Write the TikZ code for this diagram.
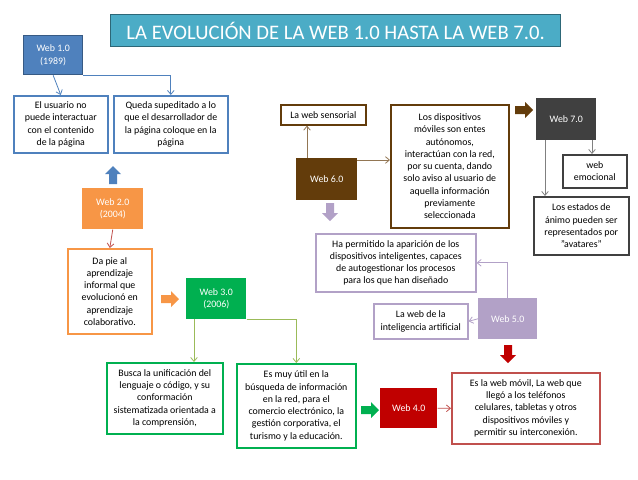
\documentclass[tikz,border=0pt]{standalone}
\usepackage{fontspec}
\setmainfont{Carlito}
\usetikzlibrary{arrows.meta}
\definecolor{tealc}{HTML}{4BACC6}
\definecolor{bluec}{HTML}{4F81BD}
\definecolor{orangec}{HTML}{F79646}
\definecolor{greenc}{HTML}{00B050}
\definecolor{greenl}{HTML}{9BBB59}
\definecolor{redc}{HTML}{C00000}
\definecolor{redl}{HTML}{C0504D}
\definecolor{purplec}{HTML}{B2A1C7}
\definecolor{brownc}{HTML}{633C0B}
\definecolor{grayc}{HTML}{404040}
\tikzset{
 x=0.75pt,y=-0.75pt,
 box/.style={draw=#1,line width=1.2pt,fill=white,align=center,font=\fontsize{7.4}{9.2}\selectfont,inner sep=1pt},
 web/.style={fill=#1,text=white,align=center,font=\fontsize{7.4}{9.2}\selectfont,inner sep=0pt},
 con/.style={draw=#1,line width=0.6pt,-{Straight Barb[length=3pt,width=5pt]}},
}
\newcommand{\bx}[6]{\pgfmathsetmacro\bxw{(#4-#2)*0.75}\pgfmathsetmacro\bxh{(#5-#3)*0.75}%
\node[#1,minimum width=\bxw pt,minimum height=\bxh pt,anchor=north west] (#6) at (#2,#3)}
\newcommand{\blkarrow}[4]{\fill[#4,shift={(#1,#2)},rotate=#3] (-9,-4) -- (1,-4) -- (1,-8) -- (9,0) -- (1,8) -- (1,4) -- (-9,4) -- cycle;}
\begin{document}
\begin{tikzpicture}
\useasboundingbox (0,0) rectangle (638,479);
\node[fill=tealc,draw=tealc!60!black,line width=1pt,text=white,font=\fontsize{15.5}{17}\selectfont,minimum width=337.5pt,minimum height=24pt,anchor=north west] (title) at (110,14) {LA EVOLUCIÓN DE LA WEB 1.0 HASTA LA WEB 7.0.};
\bx{web=bluec,draw=bluec!70!black,line width=1pt}{23}{35}{82}{74}{w1}{Web 1.0\\(1989)};
\bx{box=bluec}{13}{95}{107}{152}{a}{El usuario no\\puede interactuar\\con el contenido\\de la página};
\bx{box=bluec}{113}{95}{227}{152}{b}{Queda supeditado a lo\\que el desarrollador de\\la página coloque en la\\página};
\draw[con=bluec] (w1.south) -- (a.north);
\draw[con=bluec] (w1.south east) -| (b.north);
\blkarrow{113}{175}{90}{bluec}
\bx{web=orangec}{82}{188}{143}{229}{w2}{Web 2.0\\(2004)};
\bx{box=orangec}{67}{248}{151}{333}{c}{Da pie al\\aprendizaje\\informal que\\evolucionó en\\aprendizaje\\colaborativo.};
\draw[con=redl] (w2.south) -- (c.north);
\blkarrow{170}{299}{0}{orangec}
\bx{web=greenc}{186}{278}{246}{319}{w3}{Web 3.0\\(2006)};
\bx{box=greenc}{106}{362}{222}{433}{d}{Busca la unificación del\\lenguaje o código, y su\\conformación\\sistematizada orientada a\\la comprensión,};
\bx{box=greenc}{236}{363}{355}{447}{e}{Es muy útil en la\\búsqueda de información\\en la red, para el\\comercio electrónico, la\\gestión corporativa, el\\turismo y la educación.};
\coordinate (w3s) at (194,319);
\draw[con=greenl] (w3s) -- (194,362);
\draw[con=greenl] (w3.south east) -| (e.north);
\blkarrow{370}{410}{0}{greenc}
\bx{web=redc}{380}{388}{437}{428}{w4}{Web 4.0};
\bx{box=redl}{451}{372}{599}{443}{f}{Es la web móvil, La web que\\llegó a los teléfonos\\celulares, tabletas y otros\\dispositivos móviles y\\permitir su interconexión.};
\draw[con=redl] (w4.east) -- (f.west);
\blkarrow{508}{354}{-90}{redc}
\bx{web=purplec}{478}{298}{537}{339}{w5}{Web 5.0};
\bx{box=purplec}{373}{303}{467}{338}{g}{La web de la\\inteligencia artificial};
\bx{box=purplec}{315}{233}{475}{291}{h}{Ha permitido la aparición de los\\dispositivos inteligentes, capaces\\de autogestionar los procesos\\para los que han diseñado};
\draw[con=purplec] (w5.west) -- (g.east);
\draw[con=purplec] (w5.north) |- (h.east);
\blkarrow{330}{212}{-90}{purplec}
\bx{web=brownc}{296}{158}{357}{200}{w6}{Web 6.0};
\bx{box=brownc}{280}{104}{365}{124}{s}{La web sensorial};
\bx{box=brownc}{390}{104}{508}{227}{i}{Los dispositivos\\móviles son entes\\autónomos,\\interactúan con la red,\\por su  cuenta, dando\\solo aviso al usuario de\\aquella información\\previamente\\seleccionada};
\coordinate (w6t) at (307,158);
\coordinate (w6r) at (357,160);
\draw[con={brownc!70!white}] (w6t) -- (w6t|-s.south);
\draw[con={brownc!70!white}] (w6r) -- (w6r-|i.west);
\blkarrow{524}{110}{0}{brownc}
\bx{web=grayc}{536}{98}{596}{140}{w7}{Web 7.0};
\bx{box=grayc}{562}{154}{626}{187}{k}{web\\emocional};
\bx{box=grayc}{533}{196}{628}{254}{j}{Los estados de\\ánimo  pueden ser\\representados por\\"avatares"};
\coordinate (w7a) at (592,140);
\coordinate (w7b) at (545,140);
\draw[con=gray] (w7a) -- (w7a|-k.north);
\draw[con=gray] (w7b) -- (w7b|-j.north);
\end{tikzpicture}
\end{document}
